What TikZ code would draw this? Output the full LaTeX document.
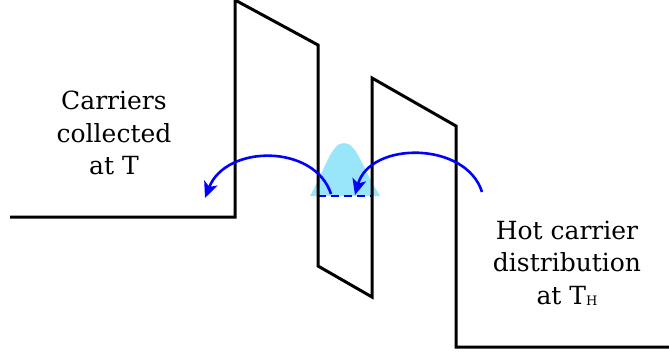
\documentclass[tikz,border=0pt]{standalone}
\usepackage{fontspec}
\setmainfont{DejaVu Serif}
\usepackage{xcolor}
\usepackage{tikz}
\usetikzlibrary{arrows.meta}
\definecolor{bdedge}{RGB}{0,0,0}
\definecolor{bdhop}{RGB}{0,0,255}
\definecolor{bdhot}{RGB}{153,229,250}
\tikzset{
  band/.style={draw=bdedge, line width=3pt, line join=miter},
  hop/.style={-{Stealth[length=16pt,width=14pt,inset=4pt]}, draw=bdhop, line width=2.6pt},
  lvl/.style={draw=bdhop, line width=2.6pt, dash pattern=on 8pt off 5pt},
  lbl/.style={align=center, inner sep=0pt, font=\fontsize{25}{32.5}\selectfont},
  every picture/.append style={x=1pt, y=-1pt}
}
\newcommand{\subH}{\raisebox{-1pt}{\fontsize{13}{13}\selectfont H}}

\begin{document}
\begin{tikzpicture}
  \useasboundingbox (0,0) rectangle (669,351);
  % hot distribution in the well
  \fill[bdhot] (310,196) .. controls (326,168) and (331,143) .. (344,143)
    .. controls (357,143) and (362,168) .. (380,196) -- cycle;
  \coordinate (wl) at (318,196);
  \coordinate (wr) at (372,196);
  \draw[lvl] (wl) -- (wr);
  % band profile
  \draw[band] (10,217) -- (235,217) -- (235,0) -- (318,45) -- (318,266)
    -- (372,297) -- (372,78) -- (456,126) -- (456,347) -- (669,347);
  % hops
  \coordinate (a1) at (331,194);
  \coordinate (a2) at (205,198);
  \coordinate (b1) at (482,192);
  \coordinate (b2) at (355,195);
  \draw[hop] (a1) .. controls (315,144) and (226,144) .. (a2);
  \draw[hop] (b1) .. controls (466,141) and (370,141) .. (b2);
  % labels
  \node[lbl] (cold) at (114,133) {Carriers\\collected\\at T};
  \node[lbl] (hot) at (567,263) {Hot carrier\\distribution\\at T\subH};
\end{tikzpicture}
\end{document}
